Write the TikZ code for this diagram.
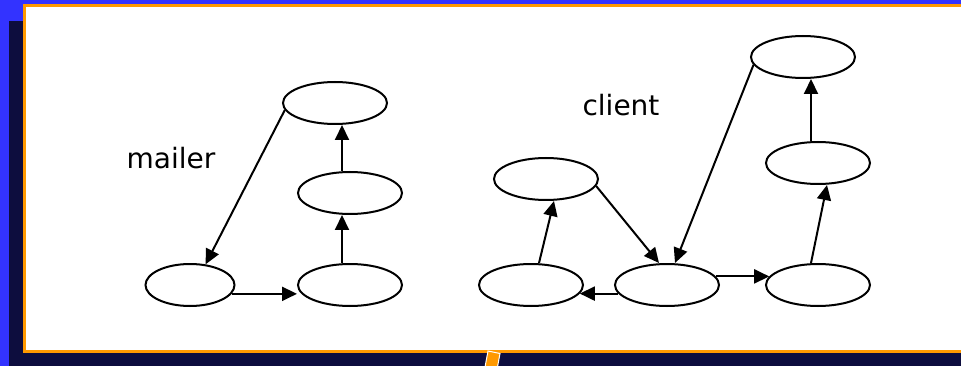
\documentclass[tikz,border=0pt]{standalone}
\usepackage{fontspec}
\setmainfont{DejaVu Sans}
\usetikzlibrary{shapes.geometric,arrows.meta}
\definecolor{slidenavy}{RGB}{13,13,62}
\definecolor{slideblue}{RGB}{51,51,255}
\definecolor{slideorange}{RGB}{255,153,0}
\begin{document}
\begin{tikzpicture}[
            x = 1pt, y = -1pt,
            proc/.style = {draw, ellipse, line width = 2pt, inner sep = 0pt,
                minimum width = 104pt, minimum height = 42pt},
            call/.style = {-{Triangle[length = 15pt, width = 14pt]}, line width = 2pt},
            tag/.style = {font = \fontsize{28}{32}\selectfont}]
            \useasboundingbox (0,0) rectangle (961,366);
            % slide background
            \fill[slidenavy] (0,0) rectangle (961,366);
            \fill[slideblue] (0,0) rectangle (961,4);
            \fill[slideblue] (0,0) rectangle (23,21);
            \fill[slideblue] (0,0) rectangle (9,366);
            \begin{scope}
                \clip (0,0) rectangle (961,366);
                \filldraw[fill = white, draw = slideorange, line width = 3pt]
                    (24.5,5.5) rectangle (975,351.5);
                \filldraw[fill = slideorange, draw = white, line width = 1pt]
                    (488,351) -- (500,353.5) -- (496,375) -- (484,372.5) -- cycle;
            \end{scope}
            % mailer
            \node[tag] (mailer) at (171,158) {mailer};
            \node[proc] (mtop) at (335,103) {};
            \node[proc] (mmid) at (350,193) {};
            \node[proc, minimum width = 89pt] (mbl) at (190,285) {};
            \node[proc] (mbr) at (350,285) {};
            \draw[call] (mtop.188) -- (mbl.53);
            \draw[call] (mbl.-12) -- (mbl.-12 -| mbr.west);
            \draw[call] ([xshift = -8pt]mbr.north) -- ([xshift = -8pt]mmid.south);
            \draw[call] ([xshift = -8pt]mmid.north) -- ([xshift = 7pt]mtop.south);
            % client
            \node[tag] (client) at (621,105) {client};
            \node[proc] (ctop) at (803,57) {};
            \node[proc] (cmid) at (818,163) {};
            \node[proc] (cul) at (546,179) {};
            \node[proc] (cbl) at (531,285) {};
            \node[proc] (chub) at (667,285) {};
            \node[proc] (cbr) at (818,285) {};
            \draw[call] ([xshift = 8pt]cbl.north) -- ([xshift = 8pt]cul.south);
            \draw[call] (cul.-8) -- ([xshift = -8pt]chub.north);
            \draw[call] (ctop.189) -- ([xshift = 8pt]chub.north);
            \draw[call] (chub.190) -- (cbl.-10);
            \draw[call] (chub.10) -- (cbr.170);
            \draw[call] ([xshift = -7pt]cbr.north) -- ([xshift = 9pt]cmid.south);
            \draw[call] ([xshift = -7pt]cmid.north) -- ([xshift = 8pt]ctop.south);
        \end{tikzpicture}
\end{document}
